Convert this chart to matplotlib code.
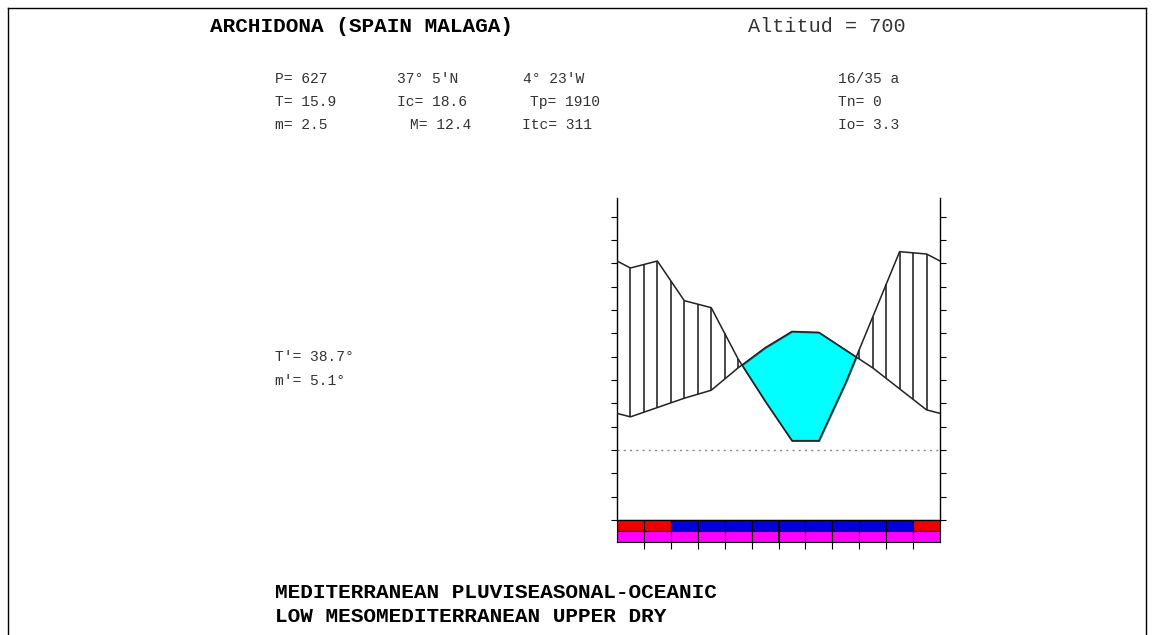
import numpy as np
import matplotlib.pyplot as plt

# station data
months = ['Jan', 'Feb', 'Mar', 'Apr', 'May', 'Jun', 'Jul', 'Aug', 'Sep', 'Oct', 'Nov', 'Dec']
precip = [78, 81, 64, 61, 39, 21, 4, 4, 29, 57, 85, 84]          # mm
temp = [7.1, 9.1, 11.1, 12.8, 17.6, 21.9, 25.4, 25.2, 21.4, 17.6, 13.1, 8.6]  # degC
row1_class = ['R', 'R', 'B', 'B', 'B', 'B', 'B', 'B', 'B', 'B', 'B', 'R']
row2_class = ['M'] * 12

title = 'ARCHIDONA (SPAIN MALAGA)'
altitude = 'Altitud = 700'
stats_rows = [
    ['P= 627', "37\u00b0 5'N", "4\u00b0 23'W", '16/35 a'],
    ['T= 15.9', 'Ic= 18.6', 'Tp= 1910', 'Tn= 0'],
    ['m= 2.5', 'M= 12.4', 'Itc= 311', 'Io= 3.3'],
]
extremes = ["T'= 38.7\u00b0", "m'= 5.1\u00b0"]
bioclimate = ['MEDITERRANEAN PLUVISEASONAL-OCEANIC',
              'LOW MESOMEDITERRANEAN UPPER DRY']

W, H = 1153, 635
class_colors = {'R': '#ee0000', 'B': '#0000dd', 'M': '#ff00ff'}


def fx(x):
    return x / W


def fy(y):
    return 1 - y / H


fig = plt.figure(figsize=(W / 100, H / 100), dpi=100)
fig.patch.set_facecolor('white')

# outer frame
fig.add_artist(plt.Line2D([fx(8), fx(8)], [fy(8), 0], color='black', lw=1))
fig.add_artist(plt.Line2D([fx(8), fx(1146)], [fy(8), fy(8)], color='black', lw=1))
fig.add_artist(plt.Line2D([fx(1146), fx(1146)], [fy(8), 0], color='black', lw=1))

# main ombrothermic diagram, P plotted at 2:1 scale against T
ax = fig.add_axes([fx(617), fy(520), (940 - 617) / W, (520 - 198) / H])
ax.set_xlim(0, 12)
ax.set_ylim(-15, 54)

xm = np.arange(12) + 0.5
p2 = np.array(precip) / 2.0
t = np.array(temp, dtype=float)
xs = np.concatenate([[0], xm, [12]])
p_ext = np.concatenate([[(p2[0] + p2[-1]) / 2], p2, [(p2[0] + p2[-1]) / 2]])
t_ext = np.concatenate([[(t[0] + t[-1]) / 2], t, [(t[0] + t[-1]) / 2]])

# dry period
ax.fill_between(xs, p_ext, t_ext, where=p_ext < t_ext, interpolate=True,
                facecolor='#00ffff', edgecolor='#007f7f', lw=1.2, zorder=2)

# humid period hatching
xh = np.arange(1, 24) * 0.5
ph = np.interp(xh, xs, p_ext)
th = np.interp(xh, xs, t_ext)
wet = ph > th
ax.vlines(xh[wet], th[wet], ph[wet], color='#2a2a2a', lw=1.2, zorder=1)

ax.plot(xs, p_ext, color='#222222', lw=1.1, zorder=3)
ax.plot(xs, t_ext, color='#222222', lw=1.1, zorder=3)

ax.axhline(0, color='#888888', lw=1, ls=(0, (1.5, 3)), zorder=1)

for side in ['left', 'right', 'bottom']:
    ax.spines[side].set_color('black')
    ax.spines[side].set_linewidth(1)
ax.spines['top'].set_visible(False)
ax.set_xticks([])
ax.set_yticks(np.arange(-15, 51, 5))
ax.tick_params(axis='y', left=True, right=True, direction='out', length=4.5,
               width=0.8, labelleft=False, labelright=False)

# monthly status bars
bx = fig.add_axes([fx(617), fy(542), (940 - 617) / W, 22 / H])
bx.set_xlim(0, 12)
bx.set_ylim(0, 2)
bx.bar(xm, 1, bottom=1, width=1, color=[class_colors[c] for c in row1_class],
       edgecolor='black', lw=0.8)
bx.bar(xm, 1, bottom=0, width=1, color=[class_colors[c] for c in row2_class],
       edgecolor='black', lw=0.8)
for s in bx.spines.values():
    s.set_linewidth(0.8)
bx.set_yticks([])
bx.set_xticks(np.arange(1, 12))
bx.tick_params(axis='x', direction='out', length=5, width=0.8, labelbottom=False)

# texts
mono = 'Liberation Mono'
fig.text(fx(210), fy(27), title, family=mono, weight='bold', fontsize=15.2,
         va='center', ha='left')
fig.text(fx(748), fy(27), altitude, family=mono, fontsize=14.5,
         va='center', ha='left', color='#333333')

col_x = [275, 397, 523, 838]
row_y = [79, 102, 125]
for r, row in enumerate(stats_rows):
    for c, txt in enumerate(row):
        x = col_x[c]
        if txt.startswith('Tp'):
            x = 530
        elif txt.startswith('M='):
            x = 410
        elif txt.startswith('Itc'):
            x = 522
        fig.text(fx(x), fy(row_y[r]), txt, family=mono, fontsize=10.5,
                 va='center', ha='left', color='#333333')

for i, txt in enumerate(extremes):
    fig.text(fx(275), fy(357 + 24 * i), txt, family=mono, fontsize=10.5,
             va='center', ha='left', color='#333333')

for i, txt in enumerate(bioclimate):
    fig.text(fx(275), fy(593 + 24 * i), txt, family=mono, weight='bold',
             fontsize=15.2, va='center', ha='left')

fig.savefig('out.png', dpi=100)
